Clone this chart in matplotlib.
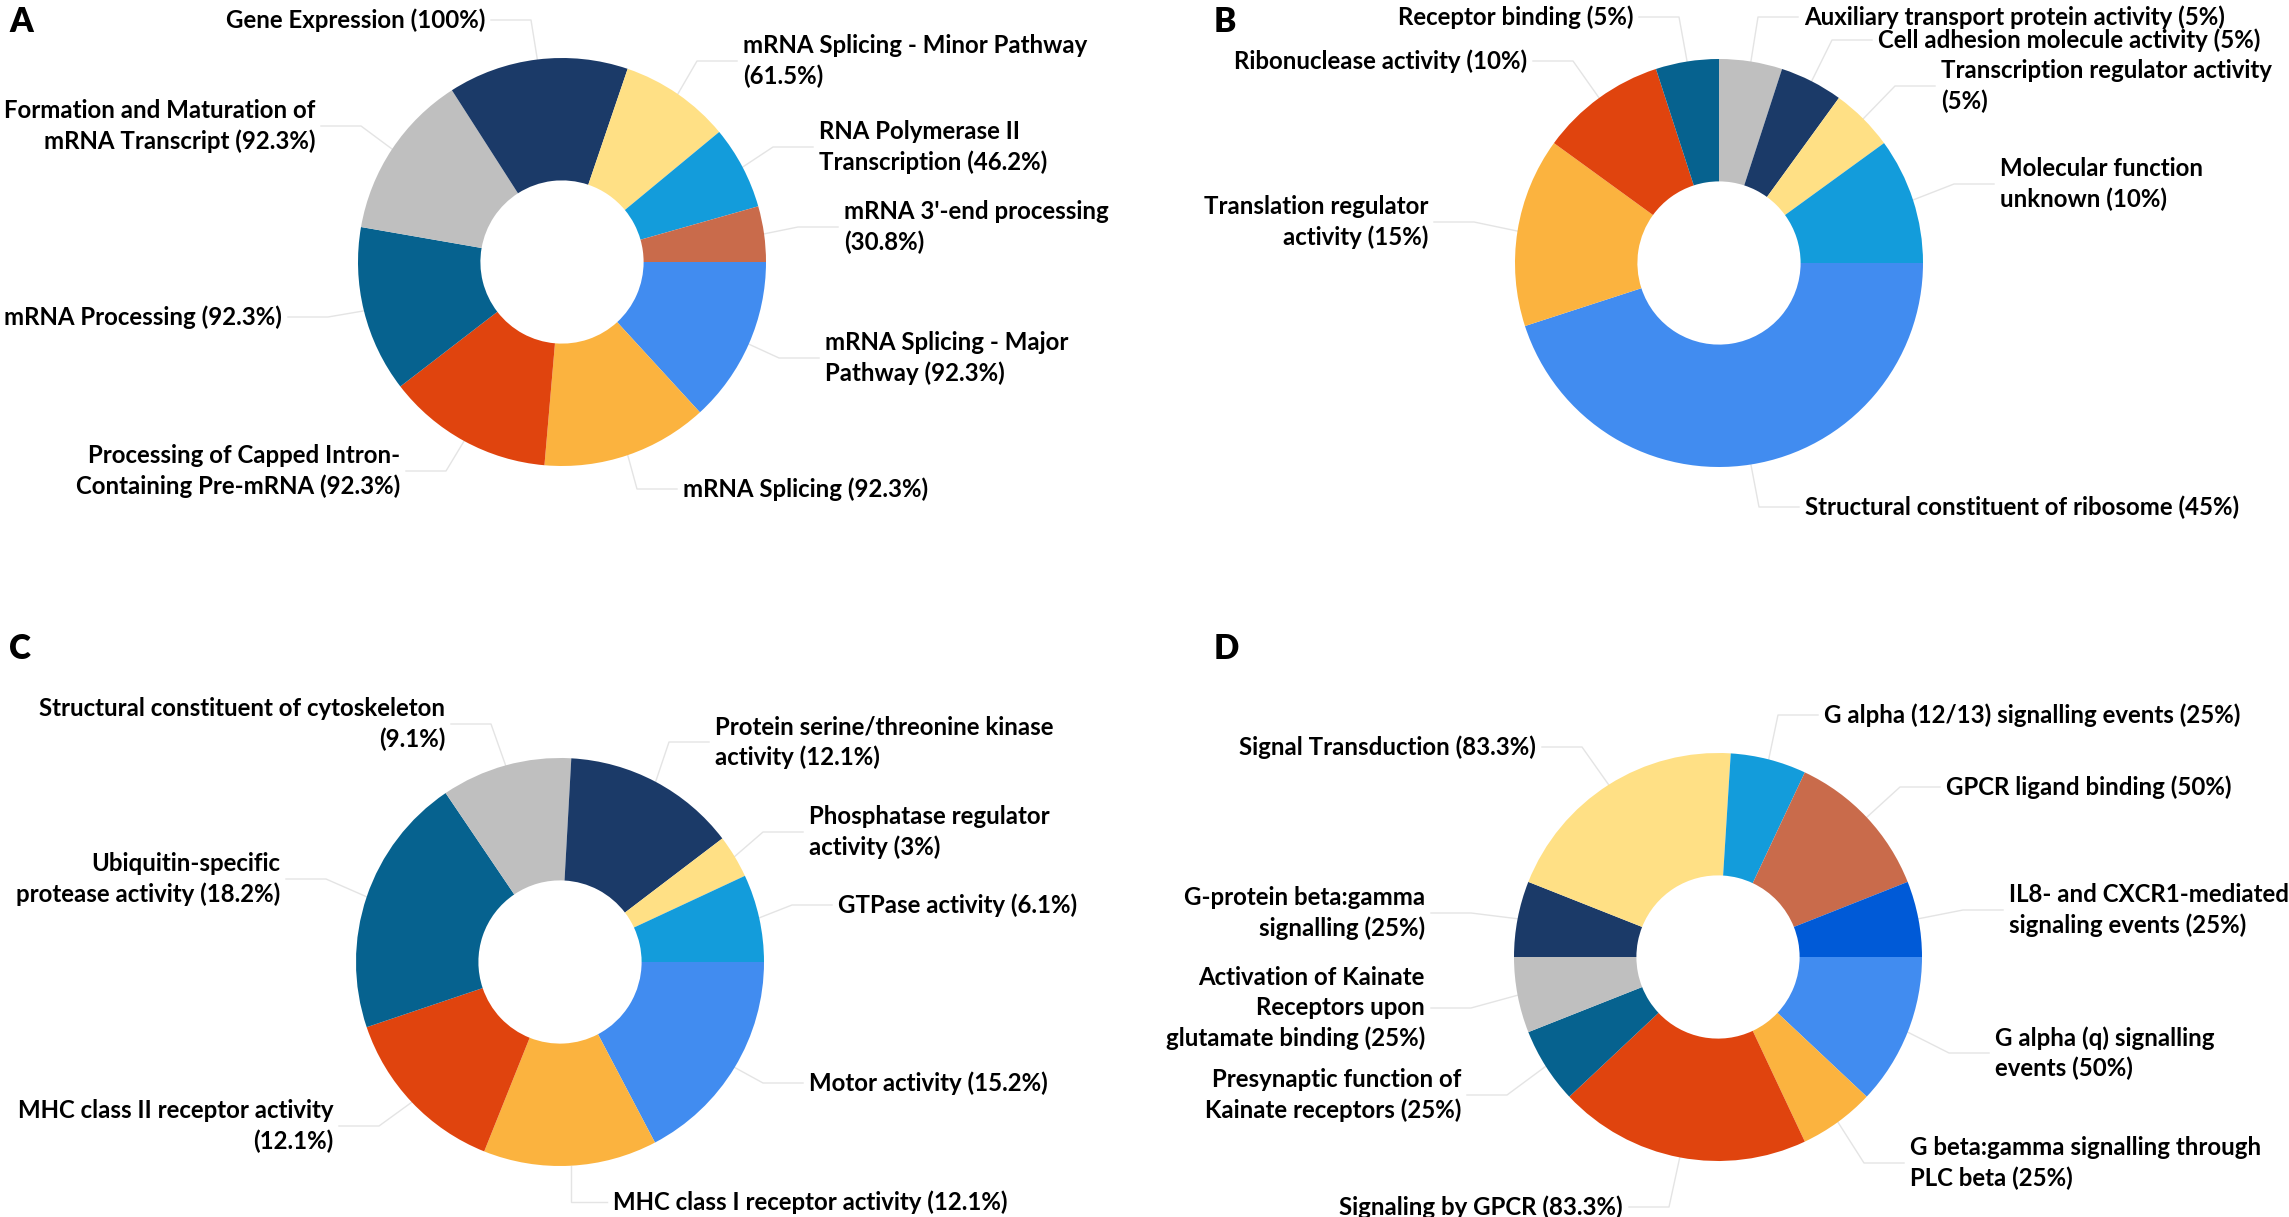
import matplotlib
matplotlib.use("Agg")
import matplotlib.pyplot as plt
import numpy as np

plt.rcParams['font.family'] = ['Lato', 'DejaVu Sans']

W, H = 2289, 1217
R = 204

# colours taken in the order the slices run (clockwise from 3 o'clock)
palette = ['#418CF0', '#FBB33F', '#E0440E', '#06628F', '#BFBFBF',
           '#1B3A68', '#FFE085', '#139CDB', '#C96B4B', '#005AD7']

# A
a_labels = ['mRNA Splicing - Major\nPathway (92.3%)',
            'mRNA Splicing (92.3%)',
            'Processing of Capped Intron-\nContaining Pre-mRNA (92.3%)',
            'mRNA Processing (92.3%)',
            'Formation and Maturation of\nmRNA Transcript (92.3%)',
            'Gene Expression (100%)',
            'mRNA Splicing - Minor Pathway\n(61.5%)',
            'RNA Polymerase II\nTranscription (46.2%)',
            "mRNA 3'-end processing\n(30.8%)"]
a_values = [92.3, 92.3, 92.3, 92.3, 92.3, 100, 61.5, 46.2, 30.8]

# B
b_labels = ['Structural constituent of ribosome (45%)',
            'Translation regulator\nactivity (15%)',
            'Ribonuclease activity (10%)',
            'Receptor binding (5%)',
            'Auxiliary transport protein activity (5%)',
            'Cell adhesion molecule activity (5%)',
            'Transcription regulator activity\n(5%)',
            'Molecular function\nunknown (10%)']
b_values = [45, 15, 10, 5, 5, 5, 5, 10]

# C
c_labels = ['Motor activity (15.2%)',
            'MHC class I receptor activity (12.1%)',
            'MHC class II receptor activity\n(12.1%)',
            'Ubiquitin-specific\nprotease activity (18.2%)',
            'Structural constituent of cytoskeleton\n(9.1%)',
            'Protein serine/threonine kinase\nactivity (12.1%)',
            'Phosphatase regulator\nactivity (3%)',
            'GTPase activity (6.1%)']
c_values = [15.2, 12.1, 12.1, 18.2, 9.1, 12.1, 3, 6.1]

# D
d_labels = ['G alpha (q) signalling\nevents (50%)',
            'G beta:gamma signalling through\nPLC beta (25%)',
            'Signaling by GPCR (83.3%)',
            'Presynaptic function of\nKainate receptors (25%)',
            'Activation of Kainate\nReceptors upon\nglutamate binding (25%)',
            'G-protein beta:gamma\nsignalling (25%)',
            'Signal Transduction (83.3%)',
            'G alpha (12/13) signalling events (25%)',
            'GPCR ligand binding (50%)',
            'IL8- and CXCR1-mediated\nsignaling events (25%)']
d_values = [50, 25, 83.3, 25, 25, 25, 83.3, 25, 50, 25]

# layout (pixels, y measured from the top)
a_center = (562, 262)
a_pos = [(825, 358, 'left'), (683, 489, 'left'), (400, 471, 'right'),
         (282, 317, 'right'), (315, 126, 'right'), (485, 20, 'right'),
         (743, 61, 'left'), (819, 147, 'left'), (844, 227, 'left')]
b_center = (1719, 263)
b_pos = [(1805, 507, 'left'), (1428, 222, 'right'), (1527, 61, 'right'),
         (1633, 17, 'right'), (1804, 17, 'left'), (1878, 40, 'left'),
         (1941, 86, 'left'), (2000, 184, 'left')]
c_center = (560, 962)
c_pos = [(809, 1083, 'left'), (613, 1202, 'left'), (333, 1126, 'right'),
         (280, 879, 'right'), (445, 724, 'right'), (715, 742, 'left'),
         (809, 832, 'left'), (838, 905, 'left')]
d_center = (1718, 957)
d_pos = [(1995, 1053, 'left'), (1910, 1163, 'left'), (1623, 1207, 'right'),
         (1461, 1095, 'right'), (1425, 1008, 'right'), (1425, 913, 'right'),
         (1536, 747, 'right'), (1824, 715, 'left'), (1946, 787, 'left'),
         (2009, 910, 'left')]

fig = plt.figure(figsize=(W / 100, H / 100), dpi=100)
ax = fig.add_axes([0, 0, 1, 1])


def donut(values, labels, center, positions):
    cx, cy = center
    wedges, _ = ax.pie(values, colors=palette[:len(values)], startangle=0,
                       counterclock=False, radius=R, center=(cx, H - cy),
                       frame=True, wedgeprops=dict(width=R * 0.6, linewidth=0))
    for w, lab, (lx, ly, ha) in zip(wedges, labels, positions):
        ax.text(lx, H - ly, lab, ha=ha, va='center', multialignment=ha,
                fontsize=17.3, fontweight='bold', color='black',
                linespacing=1.36)
        # leader line: short horizontal piece, then to the slice edge
        mid = np.deg2rad((w.theta1 + w.theta2) / 2)
        wx = cx + R * np.cos(mid)
        wy = cy - R * np.sin(mid)
        sign = -1 if ha == 'left' else 1
        edge = lx + sign * 6
        run = min(40, max(0, sign * (wx - edge)))
        ex = edge + sign * run
        ax.plot([edge, ex, wx], [H - ly, H - ly, H - wy], color='#E4E4E4',
                lw=1.0, zorder=0)


donut(a_values, a_labels, a_center, a_pos)
donut(b_values, b_labels, b_center, b_pos)
donut(c_values, c_labels, c_center, c_pos)
donut(d_values, d_labels, d_center, d_pos)

for letter, x, y in [('A', 9, 32), ('B', 1214, 32), ('C', 9, 659), ('D', 1214, 659)]:
    ax.text(x, H - y, letter, ha='left', va='baseline', fontsize=24,
            fontweight='heavy', color='black')

ax.set_xlim(0, W)
ax.set_ylim(0, H)
ax.set_aspect('equal')
ax.axis('off')

fig.savefig('out.png', dpi=100, facecolor='white')
